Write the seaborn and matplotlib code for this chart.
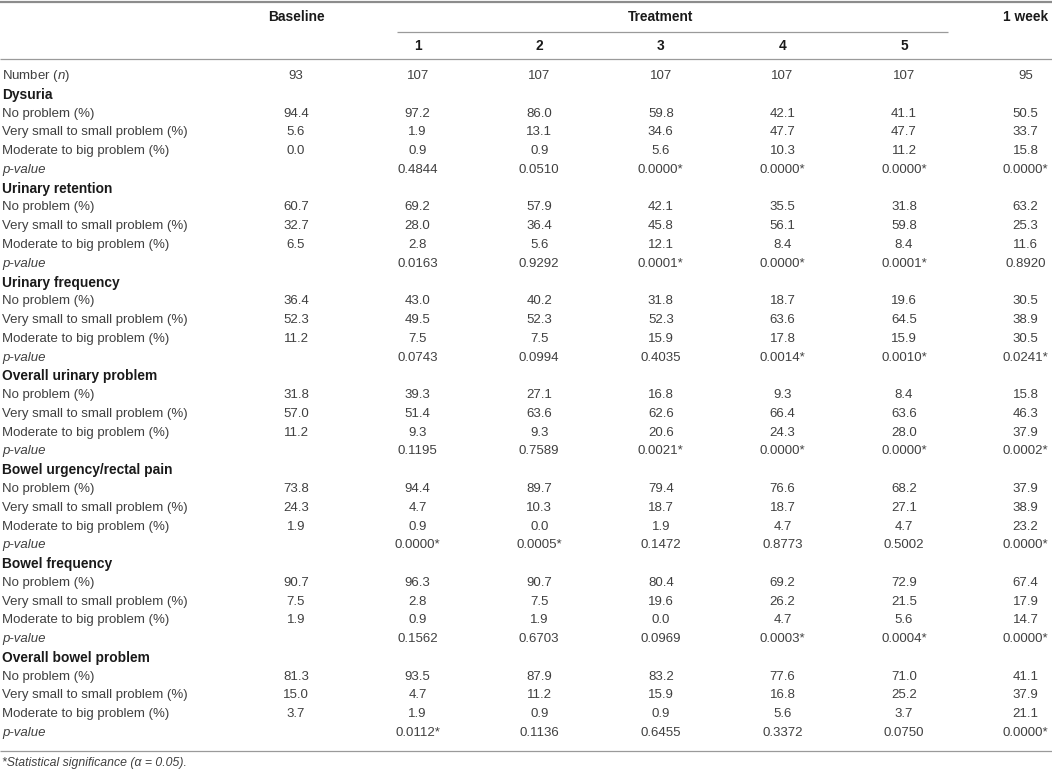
import matplotlib
matplotlib.use("Agg")
import matplotlib.pyplot as plt
import seaborn as sns
import pandas as pd

# column headers
col_labels = ["Baseline", "1", "2", "3", "4", "5", "1 week"]
n_counts = [93, 107, 107, 107, 107, 107, 95]

outcomes = ["Dysuria", "Urinary retention", "Urinary frequency",
            "Overall urinary problem", "Bowel urgency/rectal pain",
            "Bowel frequency", "Overall bowel problem"]

# one list per outcome, columns: Baseline, 1..5, 1 week
no_problem = [
    [94.4, 97.2, 86.0, 59.8, 42.1, 41.1, 50.5],
    [60.7, 69.2, 57.9, 42.1, 35.5, 31.8, 63.2],
    [36.4, 43.0, 40.2, 31.8, 18.7, 19.6, 30.5],
    [31.8, 39.3, 27.1, 16.8, 9.3, 8.4, 15.8],
    [73.8, 94.4, 89.7, 79.4, 76.6, 68.2, 37.9],
    [90.7, 96.3, 90.7, 80.4, 69.2, 72.9, 67.4],
    [81.3, 93.5, 87.9, 83.2, 77.6, 71.0, 41.1],
]
small_problem = [
    [5.6, 1.9, 13.1, 34.6, 47.7, 47.7, 33.7],
    [32.7, 28.0, 36.4, 45.8, 56.1, 59.8, 25.3],
    [52.3, 49.5, 52.3, 52.3, 63.6, 64.5, 38.9],
    [57.0, 51.4, 63.6, 62.6, 66.4, 63.6, 46.3],
    [24.3, 4.7, 10.3, 18.7, 18.7, 27.1, 38.9],
    [7.5, 2.8, 7.5, 19.6, 26.2, 21.5, 17.9],
    [15.0, 4.7, 11.2, 15.9, 16.8, 25.2, 37.9],
]
big_problem = [
    [0.0, 0.9, 0.9, 5.6, 10.3, 11.2, 15.8],
    [6.5, 2.8, 5.6, 12.1, 8.4, 8.4, 11.6],
    [11.2, 7.5, 7.5, 15.9, 17.8, 15.9, 30.5],
    [11.2, 9.3, 9.3, 20.6, 24.3, 28.0, 37.9],
    [1.9, 0.9, 0.0, 1.9, 4.7, 4.7, 23.2],
    [1.9, 0.9, 1.9, 0.0, 4.7, 5.6, 14.7],
    [3.7, 1.9, 0.9, 0.9, 5.6, 3.7, 21.1],
]
# p-values vs baseline, * = significant
p_values = [
    ["", "0.4844", "0.0510", "0.0000*", "0.0000*", "0.0000*", "0.0000*"],
    ["", "0.0163", "0.9292", "0.0001*", "0.0000*", "0.0001*", "0.8920"],
    ["", "0.0743", "0.0994", "0.4035", "0.0014*", "0.0010*", "0.0241*"],
    ["", "0.1195", "0.7589", "0.0021*", "0.0000*", "0.0000*", "0.0002*"],
    ["", "0.0000*", "0.0005*", "0.1472", "0.8773", "0.5002", "0.0000*"],
    ["", "0.1562", "0.6703", "0.0969", "0.0003*", "0.0004*", "0.0000*"],
    ["", "0.0112*", "0.1136", "0.6455", "0.3372", "0.0750", "0.0000*"],
]

# build the table rows
rows = [(r"Number ($\mathit{n}$)", "normal", "normal", [str(v) for v in n_counts])]
for i, name in enumerate(outcomes):
    rows.append((name, "bold", "normal", [""] * 7))
    rows.append(("No problem (%)", "normal", "normal", [f"{v:.1f}" for v in no_problem[i]]))
    rows.append(("Very small to small problem (%)", "normal", "normal", [f"{v:.1f}" for v in small_problem[i]]))
    rows.append(("Moderate to big problem (%)", "normal", "normal", [f"{v:.1f}" for v in big_problem[i]]))
    rows.append(("p-value", "normal", "italic", p_values[i]))
table = pd.DataFrame(rows, columns=["label", "weight", "style", "values"])

sns.set_theme(style="white")
plt.rcParams['font.family'] = ['Liberation Sans', 'DejaVu Sans']
plt.rcParams['mathtext.fontset'] = 'custom'
plt.rcParams['mathtext.rm'] = 'Liberation Sans'
plt.rcParams['mathtext.it'] = 'Liberation Sans:italic'

fig = plt.figure(figsize=(10.52, 7.73), dpi=100)
ax = fig.add_axes([0, 0, 1, 1])
x0, x1 = -2.434, 6.217
ax.set_xlim(x0, x1)
ax.set_ylim(37.13, -4.05)
ax.axis("off")

body = "#404040"
head = "#1a1a1a"
rule = "#9a9a9a"
fs = 9.5
fs_head = 9.9

# header
ax.text(0, -3.14, col_labels[0], ha="center", va="center", fontsize=fs_head, weight="bold", color=head)
ax.text(3, -3.14, "Treatment", ha="center", va="center", fontsize=fs_head, weight="bold", color=head)
ax.text(6, -3.14, col_labels[6], ha="center", va="center", fontsize=fs_head, weight="bold", color=head)
for j in range(1, 6):
    ax.text(j, -1.6, col_labels[j], ha="center", va="center", fontsize=fs_head, weight="bold", color=head)

ax.hlines(-3.94, x0, x1, color="#8c8c8c", lw=1.6)
ax.hlines(-2.34, 0.83, 5.36, color=rule, lw=0.9)
ax.hlines(-0.9, x0, x1, color=rule, lw=0.9)
ax.hlines(35.96, x0, x1, color=rule, lw=0.9)

for r, row in table.iterrows():
    bold = row["weight"] == "bold"
    ax.text(x0 + 0.02, r, row["label"], ha="left", va="center",
            fontsize=fs_head if bold else fs,
            weight=row["weight"], style=row["style"],
            color=head if bold else body)
    for j, val in enumerate(row["values"]):
        if val:
            ax.text(j, r, val, ha="center", va="center", fontsize=fs, color=body)

ax.text(x0 + 0.02, 36.6, "*Statistical significance (α = 0.05).", ha="left", va="center",
        fontsize=8.8, style="italic", color=body)

fig.savefig("out.png", dpi=100)
